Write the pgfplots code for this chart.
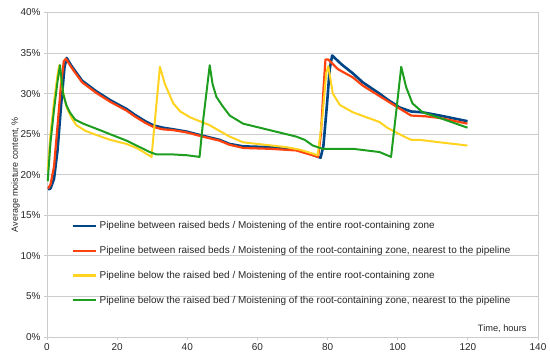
\documentclass[border=0pt]{standalone}
\usepackage{pgfplots}
\pgfplotsset{compat=1.18}
\usepackage{fontspec}
\setmainfont{Liberation Sans}
\definecolor{cblue}{HTML}{004586}
\definecolor{cred}{HTML}{FF420E}
\definecolor{cyel}{HTML}{FFD320}
\definecolor{cgreen}{HTML}{1E9E1E}
\definecolor{gridc}{HTML}{CCCCCC}
\begin{document}
\begin{tikzpicture}
\begin{axis}[
  name=ax,
  scale only axis,
  width=491bp, height=324.5bp,
  xmin=0, xmax=140, ymin=0, ymax=40,
  xtick={0,20,...,140},
  ytick={0,5,...,40},
  yticklabel={\pgfmathprintnumber{\tick}\%},
  /pgf/number format/assume math mode=true,
  ymajorgrids, grid style={gridc, line width=0.8pt},
  axis line style={gridc, line width=0.8pt},
  tick style={gridc, line width=0.8pt},
  tick align=outside, major tick length=3bp,
  xtick pos=bottom, ytick pos=left,
  ticklabel style={font=\fontsize{10}{12}\selectfont, text=black!85},
  ylabel={Average moisture content, \%},
  ylabel style={font=\fontsize{9}{11}\selectfont, text=black!85, yshift=-6bp},
  clip=false,
  legend style={at={(rel axis cs:0.051,0.362)}, anchor=north west, draw=none, fill=none,
    font=\fontsize{10}{12}\selectfont, text=black!85, row sep=12bp, inner sep=0pt,
    cells={anchor=west}},
  legend image code/.code={\draw[#1, line width=2.4bp] (0bp,0bp) -- (23bp,0bp);},
  legend cell align=left,
]
\addplot[cblue, line width=2.6bp, line join=round] coordinates {
(0.3,18.2) (1,18.3) (2,19.5) (3,23) (4,28.5) (5,33.3) (5.6,34.4) (7,33.4) (10,31.6) (14,30.3) (18,29.2) (22.7,28.1) (25,27.4) (28,26.6) (30.3,26.1) (33,25.8) (36,25.6) (40,25.3) (43.5,24.9) (49.2,24.3) (52,23.8) (55.9,23.5) (63.5,23.4) (71,23.1) (75,22.6) (76.7,22.3) (78,22.1) (78.8,23.5) (79.8,28.5) (80.6,33) (81.3,34.7) (84,33.6) (87.2,32.5) (90,31.4) (94.8,30.0) (97,29.3) (100.5,28.3) (103.8,27.8) (107,27.7) (112,27.3) (119.9,26.6)
};
\addlegendentry{Pipeline between raised beds / Moistening of the entire root-containing zone}
\addplot[cred, line width=2.2bp, line join=round] coordinates {
(0.3,18.3) (1,18.8) (2,21) (3,26) (4,31.2) (4.8,34.0) (5.4,34.3) (7,33.2) (10,31.4) (14,30.1) (18,29.0) (22.7,27.9) (25,27.2) (28,26.4) (30.3,25.9) (33,25.6) (36,25.5) (40,25.2) (43.5,24.8) (49.2,24.2) (52,23.7) (56,23.3) (63.5,23.2) (71,23.0) (75,22.5) (77.3,22.2) (78.1,25) (78.9,31) (79.4,34.2) (80.2,34.2) (83,33.0) (87.2,32.0) (90,31.0) (94.8,29.7) (100,28.3) (103.8,27.3) (108,27.2) (112,27.0) (119.9,26.3)
};
\addlegendentry{Pipeline between raised beds / Moistening of the root-containing zone, nearest to the pipeline}
\addplot[cyel, line width=2.0bp, line join=round] coordinates {
(0.2,20.5) (1,25) (2,29) (3,32.3) (3.5,33.5) (4.4,30.5) (5.6,28.3) (7,27) (8.4,26.1) (11,25.4) (14.1,24.9) (18,24.3) (22.7,23.8) (26,23.2) (29.8,22.2) (32.2,33.3) (33.6,31.2) (36,28.8) (38,27.8) (40.7,27.1) (46.4,26.1) (49.2,25.4) (52.1,24.7) (55.9,24.0) (62,23.7) (68.2,23.4) (72,23.1) (75.8,22.6) (77.2,22.4) (78.5,27) (79.6,32.5) (80.2,33.4) (81.5,30.0) (83.5,28.6) (87.2,27.7) (91,27.1) (94.8,26.5) (97,25.8) (100.5,25.0) (103.8,24.3) (106.2,24.3) (112,24.0) (119.9,23.6)
};
\addlegendentry{Pipeline below the raised bed / Moistening of the entire root-containing zone}
\addplot[cgreen, line width=2.0bp, line join=round] coordinates {
(0.2,19.2) (1,24) (2,28) (3,31.5) (3.7,33.5) (4.6,30.0) (5.5,28.6) (6.5,27.7) (8,26.8) (10.3,26.3) (15.1,25.5) (18,25.0) (22.7,24.2) (26,23.5) (29.3,22.8) (31.2,22.5) (36,22.5) (40,22.4) (43.5,22.2) (44.6,27) (46.4,33.5) (47.2,31.2) (48.3,29.6) (50,28.5) (52.1,27.3) (55.9,26.3) (63.5,25.5) (71.1,24.7) (73.5,24.3) (75.8,23.6) (77.2,23.4) (78.6,23.2) (87.2,23.2) (94.8,22.8) (98.1,22.2) (99.5,27.5) (101,33.3) (102.4,30.8) (104.2,28.8) (107.1,27.7) (112,27.0) (119.9,25.8)
};
\addlegendentry{Pipeline below the raised bed / Moistening of the root-containing zone, nearest to the pipeline}
\node[anchor=south east, font=\fontsize{9.3}{11}\selectfont, text=black!85, inner sep=0pt] at (rel axis cs:0.977,0.013) {Time, hours};
\end{axis}
\pgfresetboundingbox
\path (ax.south west) ++(-47bp,-25bp) rectangle ([shift={(12bp,12.5bp)}]ax.north east);
\end{tikzpicture}
\end{document}
